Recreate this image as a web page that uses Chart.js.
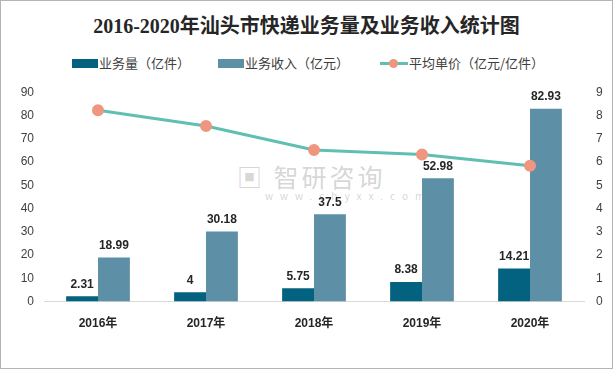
<!DOCTYPE html>
<html lang="zh-CN">
<head>
<meta charset="UTF-8">
<title>2016-2020年汕头市快递业务量及业务收入统计图</title>
<script src="https://cdn.jsdelivr.net/npm/chart.js"></script>
<style>
    body { margin: 0; background: #fff; }
    .frame { position: relative; width: 611px; height: 367px; border: 1px solid #b4b4b4; overflow: hidden; background: #fff; }
    .title { position: absolute; top: 9px; left: 0; width: 100%; text-align: center; font-family: "Liberation Serif", "Noto Sans CJK SC", serif; font-weight: bold; font-size: 20px; color: #262626; }
    .legend { position: absolute; top: 52px; left: 0; width: 100%; font-family: "Noto Sans CJK SC", sans-serif; font-size: 13px; color: #404040; }
    .legend span { position: absolute; white-space: nowrap; }
    .sw { display: inline-block; width: 26px; height: 9px; vertical-align: middle; margin-right: 1px; margin-top: -2px; }
    .lsw { display: inline-block; position: relative; width: 28px; height: 3px; background: #5fbfb3; vertical-align: middle; margin-right: 1px; margin-top: -2px; }
    .lsw:after { content: ""; position: absolute; left: 9px; top: -3px; width: 9px; height: 9px; border-radius: 50%; background: #ef9680; }
    .wm { position: absolute; left: 236px; top: 157px; font-family: "Noto Sans CJK SC", sans-serif; color: rgba(150,150,150,0.4); }
    .wm .big { font-size: 25px; letter-spacing: 3px; }
    .wm .small { font-size: 10px; letter-spacing: 7px; margin-left: 28px; margin-top: -6px; }
    #wrap { position: absolute; left: 0; top: 72px; width: 611px; height: 277px; }
</style>
</head>
<body>
<div class="frame">
    <div class="title">2016-2020年汕头市快递业务量及业务收入统计图</div>
    <div class="legend">
        <span style="left:71px"><i class="sw" style="background:#03627f"></i>业务量（亿件）</span>
        <span style="left:217px"><i class="sw" style="background:#5d8fa6"></i>业务收入（亿元）</span>
        <span style="left:379px"><i class="lsw"></i>平均单价（亿元/亿件）</span>
    </div>
    <div class="wm"><div class="big">▣ 智研咨询</div><div class="small">www.chyxx.com</div></div>
    <div id="wrap"><canvas id="chart"></canvas></div>
</div>
<script>
    // 数据
    const years = ['2016年', '2017年', '2018年', '2019年', '2020年'];
    const volume = [2.31, 4, 5.75, 8.38, 14.21];          // 业务量（亿件）
    const revenue = [18.99, 30.18, 37.5, 52.98, 82.93];   // 业务收入（亿元）
    const unitPrice = [8.22, 7.55, 6.52, 6.32, 5.84];     // 平均单价（亿元/亿件）
    const leftTicks = [0, 10, 20, 30, 40, 50, 60, 70, 80, 90];
    const rightTicks = [0, 1, 2, 3, 4, 5, 6, 7, 8, 9];

    // 柱顶数值标签
    const barLabels = {
        id: 'barLabels',
        afterDatasetsDraw(chart) {
            const ctx = chart.ctx;
            ctx.save();
            ctx.font = 'bold 12px "Liberation Sans", "Noto Sans CJK SC", sans-serif';
            ctx.fillStyle = '#262626';
            ctx.textAlign = 'center';
            ctx.textBaseline = 'bottom';
            [0, 1].forEach(i => {
                const meta = chart.getDatasetMeta(i);
                meta.data.forEach((bar, j) => {
                    ctx.fillText(chart.data.datasets[i].data[j], bar.x, bar.y - 6);
                });
            });
            ctx.restore();
        }
    };

    new Chart(document.getElementById('chart'), {
        data: {
            labels: years,
            datasets: [{
                type: 'bar',
                label: '业务量（亿件）',
                data: volume,
                backgroundColor: '#03627f',
                yAxisID: 'y',
                order: 2,
                categoryPercentage: 0.59,
                barPercentage: 1.0
            }, {
                type: 'bar',
                label: '业务收入（亿元）',
                data: revenue,
                backgroundColor: '#5d8fa6',
                yAxisID: 'y',
                order: 2,
                categoryPercentage: 0.59,
                barPercentage: 1.0
            }, {
                type: 'line',
                label: '平均单价（亿元/亿件）',
                data: unitPrice,
                borderColor: '#5fbfb3',
                borderWidth: 3,
                pointBackgroundColor: '#ef9680',
                pointBorderColor: '#ef9680',
                pointRadius: 4.5,
                tension: 0,
                yAxisID: 'y1',
                order: 1
            }]
        },
        options: {
            responsive: true,
            maintainAspectRatio: false,
            animation: false,
            layout: { padding: { top: 10, bottom: 4, left: 0, right: 0 } },
            plugins: {
                legend: { display: false },
                tooltip: { enabled: false }
            },
            scales: {
                x: {
                    grid: { display: false, drawTicks: false },
                    border: { color: '#d9d9d9', width: 1 },
                    ticks: {
                        padding: 15,
                        color: '#262626',
                        font: { family: '"Liberation Sans", "Noto Sans CJK SC", sans-serif', size: 12, weight: 'bold' }
                    }
                },
                y: {
                    position: 'left',
                    min: 0, max: 90,
                    afterBuildTicks: s => { s.ticks = leftTicks.map(v => ({ value: v })); },
                    afterFit: s => { s.width = 43; },
                    grid: { display: false, drawTicks: false },
                    border: { display: false },
                    ticks: {
                        padding: 10,
                        color: '#404040',
                        font: { family: '"Liberation Sans", sans-serif', size: 12 }
                    }
                },
                y1: {
                    position: 'right',
                    min: 0, max: 9,
                    afterBuildTicks: s => { s.ticks = rightTicks.map(v => ({ value: v })); },
                    afterFit: s => { s.width = 28; },
                    grid: { display: false, drawTicks: false },
                    border: { display: false },
                    ticks: {
                        padding: 12,
                        color: '#404040',
                        font: { family: '"Liberation Sans", sans-serif', size: 12 }
                    }
                }
            }
        },
        plugins: [barLabels]
    });
</script>
</body>
</html>
